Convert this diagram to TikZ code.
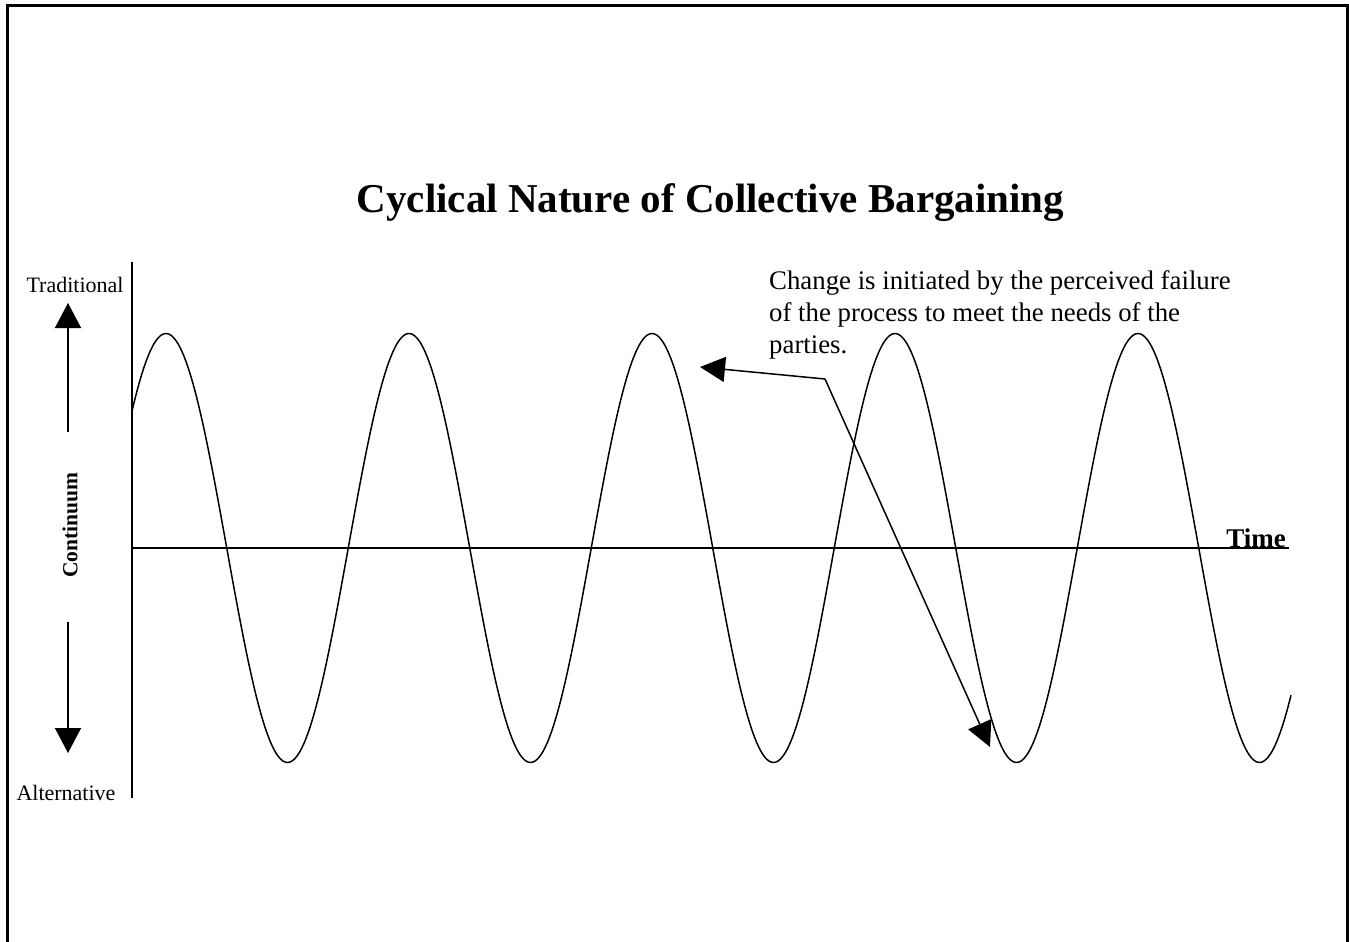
\documentclass[tikz,border=0pt]{standalone}
\usepackage{fontspec}
\setmainfont{Liberation Serif}
\usetikzlibrary{arrows.meta}
\tikzset{
  axisline/.style={line width=1.8pt, line cap=butt},
  waveline/.style={line width=1.5pt},
  bigarrow/.style={line width=1.6pt, -{Triangle[length=25pt,width=26pt]}},
  notearrow/.style={line width=1.5pt, -{Triangle[length=25pt,width=25pt]}},
  lbl/.style={inner sep=0pt, font=\fontsize{22}{26}\selectfont},
  notetext/.style={inner sep=0pt, anchor=base west, font=\fontsize{26.8}{32}\selectfont},
}
\begin{document}
\begin{tikzpicture}[x=1pt, y=-1pt]
\useasboundingbox (0,0) rectangle (1349,942);
% frame (bottom edge cut off)
\draw[line width=3pt] (7.5,950) -- (7.5,5.5) -- (1347.5,5.5) -- (1347.5,950);
% title
\node[inner sep=0pt, anchor=base, font=\bfseries\fontsize{41}{46}\selectfont] (title) at (710.5,212) {Cyclical Nature of Collective Bargaining};
% axes
\coordinate (vtop) at (132,262);
\coordinate (vbot) at (132,798);
\coordinate (hleft) at (132,548);
\coordinate (hright) at (1289,548);
\draw[axisline] (vtop) -- (vbot);
\draw[line width=1.5pt] (hleft) -- (hright);
\node[inner sep=0pt, anchor=base east, font=\bfseries\fontsize{27}{30}\selectfont] (time) at (1286,547) {Time};
% wave
\draw[waveline] plot[domain=132:1291, samples=500, smooth] (\x, {548-214.5*cos((\x-166)*1.481481)});
% left continuum
\node[lbl, anchor=base] (trad) at (75,292) {Traditional};
\node[lbl, anchor=base] (alt) at (66,800) {Alternative};
\node[inner sep=0pt, rotate=90, font=\bfseries\fontsize{21.5}{24}\selectfont] (cont) at (70,525) {Continuum};
\coordinate (upstart) at (68,432);
\coordinate (uptip) at (68,303);
\coordinate (dnstart) at (68,622);
\coordinate (dntip) at (68,753);
\draw[bigarrow] (upstart) -- (uptip);
\draw[bigarrow] (dnstart) -- (dntip);
% annotation
\node[notetext] (note1) at (769,289) {Change is initiated by the perceived failure};
\node[notetext] (note2) at (769,321) {of the process to meet the needs of the};
\node[notetext] (note3) at (769,353) {parties.};
\coordinate (junc) at (825,379);
\coordinate (tipA) at (700,367);
\coordinate (tipB) at (990,747);
\draw[notearrow] (junc) -- (tipA);
\draw[notearrow] (junc) -- (tipB);
\end{tikzpicture}
\end{document}
